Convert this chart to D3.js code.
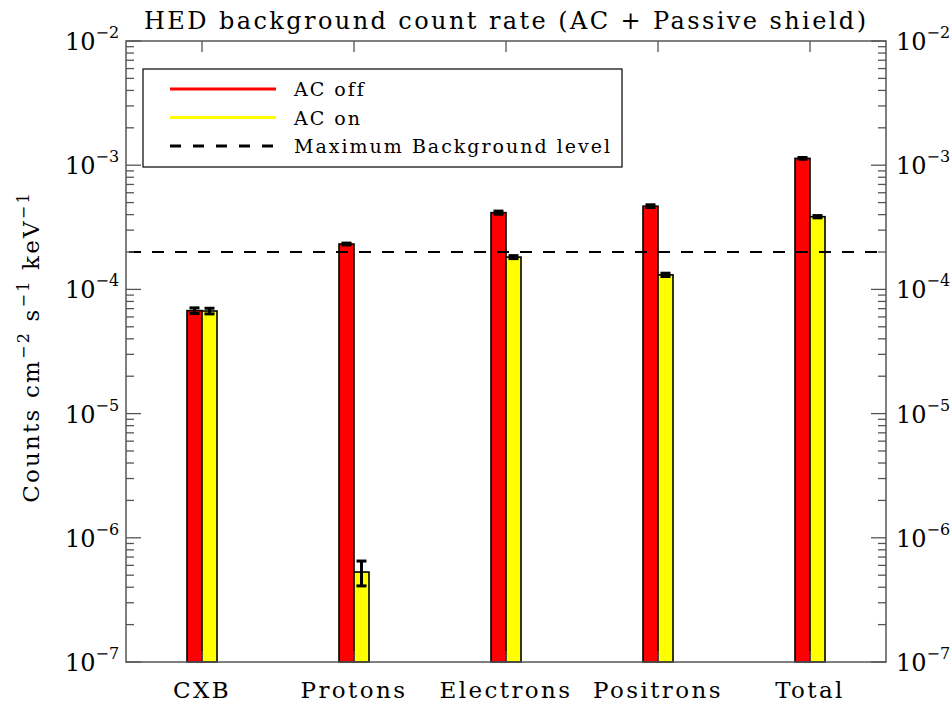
<!DOCTYPE html>
<html>
<head>
<meta charset="utf-8">
<script src="https://cdn.jsdelivr.net/npm/d3@7"></script>
<style>
  body { margin: 0; background: #fff; }
  svg { display: block; }
  text { font-family: "DejaVu Serif", serif; fill: #000; }
</style>
</head>
<body>
<svg id="chart" width="952" height="705"></svg>
<script>
// Background count rates (counts cm^-2 s^-1 keV^-1)
const categories = ["CXB", "Protons", "Electrons", "Positrons", "Total"];
const acOff    = [6.75e-5, 2.32e-4, 4.15e-4, 4.68e-4, 1.135e-3];
const acOffErr = [3.5e-6, 4e-6, 1.2e-5, 1.2e-5, 1.8e-5];
const acOn     = [6.7e-5, 5.3e-7, 1.82e-4, 1.31e-4, 3.85e-4];
const acOnErr  = [3.5e-6, 1.2e-7, 5e-6, 4e-6, 8e-6];
const maxBackground = 2e-4;
const decades = [-7, -6, -5, -4, -3, -2];
const legendLabels = ["AC off", "AC on", "Maximum Background level"];

const svg = d3.select("#chart");
const plotLeft = 126, plotRight = 886, plotTop = 41, plotBottom = 662;

const y = d3.scaleLog().domain([1e-7, 1e-2]).range([plotBottom, plotTop]);
const x = d3.scaleBand().domain(categories).range([plotLeft, plotRight]);
const cx = c => x(c) + x.bandwidth() / 2;
const barW = 15;

const axisColor = "#555";

// Bars: AC off to the left of the category centre, AC on to the right
const series = [
  {vals: acOff, errs: acOffErr, fill: "#ff0000", dx: -barW},
  {vals: acOn,  errs: acOnErr,  fill: "#ffff00", dx: 0}
];
series.forEach(s => {
  svg.append("g").selectAll("rect").data(categories).join("rect")
    .attr("x", c => cx(c) + s.dx)
    .attr("y", (c, i) => y(s.vals[i]))
    .attr("width", barW)
    .attr("height", (c, i) => plotBottom - y(s.vals[i]))
    .attr("fill", s.fill)
    .attr("stroke", "#000")
    .attr("stroke-width", 1.6);
});

// Error bars
series.forEach(s => {
  const g = svg.append("g").attr("stroke", "#000").attr("stroke-width", 3);
  categories.forEach((c, i) => {
    const xm = cx(c) + s.dx + barW / 2;
    const y1 = y(s.vals[i] + s.errs[i]), y0 = y(s.vals[i] - s.errs[i]);
    g.append("line").attr("x1", xm).attr("x2", xm).attr("y1", y1).attr("y2", y0);
    g.append("line").attr("x1", xm - 5).attr("x2", xm + 5).attr("y1", y1).attr("y2", y1);
    g.append("line").attr("x1", xm - 5).attr("x2", xm + 5).attr("y1", y0).attr("y2", y0);
  });
});

// Maximum background level
svg.append("line")
  .attr("x1", plotLeft).attr("x2", plotRight)
  .attr("y1", y(maxBackground)).attr("y2", y(maxBackground))
  .attr("stroke", "#000").attr("stroke-width", 2)
  .attr("stroke-dasharray", "12,11").attr("stroke-dashoffset", -3);

// Frame
svg.append("rect")
  .attr("x", plotLeft).attr("y", plotTop)
  .attr("width", plotRight - plotLeft).attr("height", plotBottom - plotTop)
  .attr("fill", "none").attr("stroke", axisColor).attr("stroke-width", 1.5);

// Y ticks on both sides (inward), major at decades, minor at 2..9
const ticksG = svg.append("g").attr("stroke", axisColor).attr("stroke-width", 1.3);
decades.forEach(d => {
  const v = Math.pow(10, d);
  const yy = y(v);
  ticksG.append("line").attr("x1", plotLeft).attr("x2", plotLeft + 15).attr("y1", yy).attr("y2", yy);
  ticksG.append("line").attr("x1", plotRight).attr("x2", plotRight - 15).attr("y1", yy).attr("y2", yy);
  if (d < -2) {
    for (let k = 2; k <= 9; k++) {
      const ym = y(k * v);
      ticksG.append("line").attr("x1", plotLeft).attr("x2", plotLeft + 8).attr("y1", ym).attr("y2", ym);
      ticksG.append("line").attr("x1", plotRight).attr("x2", plotRight - 8).attr("y1", ym).attr("y2", ym);
    }
  }
});
// X ticks (top and bottom, inward)
categories.forEach(c => {
  const xx = cx(c);
  ticksG.append("line").attr("x1", xx).attr("x2", xx).attr("y1", plotTop).attr("y2", plotTop + 11);
  ticksG.append("line").attr("x1", xx).attr("x2", xx).attr("y1", plotBottom).attr("y2", plotBottom - 11);
});

// Y tick labels: 10 with superscript exponent
function powerLabel(g, xPos, yPos, d) {
  const t = g.append("text")
    .attr("x", xPos).attr("y", yPos + 9)
    .style("font-size", "24px");
  t.append("tspan").text("10");
  t.append("tspan").attr("dy", -12).style("font-size", "16px").text("\u2212" + Math.abs(d));
}
const labG = svg.append("g");
decades.forEach(d => {
  const yy = y(Math.pow(10, d));
  powerLabel(labG, 65, yy, d);
  powerLabel(labG, 896, yy, d);
});

// Category labels
svg.append("g").selectAll("text").data(categories).join("text")
  .attr("x", c => cx(c)).attr("y", 698)
  .attr("text-anchor", "middle")
  .style("font-size", "23px").style("letter-spacing", "2.4px")
  .text(c => c);

// Title
svg.append("text")
  .attr("x", 505).attr("y", 29)
  .attr("text-anchor", "middle")
  .attr("textLength", 722).attr("lengthAdjust", "spacing")
  .style("font-size", "24px")
  .text("HED background count rate (AC + Passive shield)");

// Y axis label
const yl = svg.append("text")
  .attr("transform", "translate(39," + 347 + ") rotate(-90)")
  .attr("text-anchor", "middle")
  .style("font-size", "23px").style("letter-spacing", "2.2px");
yl.append("tspan").text("Counts cm");
yl.append("tspan").attr("dy", -10).style("font-size", "16px").text("\u22122");
yl.append("tspan").attr("dy", 10).text(" s");
yl.append("tspan").attr("dy", -10).style("font-size", "16px").text("\u22121");
yl.append("tspan").attr("dy", 10).text(" keV");
yl.append("tspan").attr("dy", -10).style("font-size", "16px").text("\u22121");

// Legend
const lg = svg.append("g");
lg.append("rect").attr("x", 143).attr("y", 69).attr("width", 479).attr("height", 98)
  .attr("fill", "#fff").attr("stroke", "#000").attr("stroke-width", 1.2);
const legendStyles = [
  {color: "#ff0000", dash: null, w: 3},
  {color: "#ffff00", dash: null, w: 3},
  {color: "#000", dash: "11,12", w: 3}
];
legendLabels.forEach((lab, i) => {
  const ly = 89 + i * 28.5;
  lg.append("line").attr("x1", 170).attr("x2", 276).attr("y1", ly).attr("y2", ly)
    .attr("stroke", legendStyles[i].color).attr("stroke-width", legendStyles[i].w)
    .attr("stroke-dasharray", legendStyles[i].dash);
  lg.append("text").attr("x", 294).attr("y", ly + 7)
    .style("font-size", "19px").style("letter-spacing", "2px")
    .text(lab);
});
</script>
</body>
</html>
